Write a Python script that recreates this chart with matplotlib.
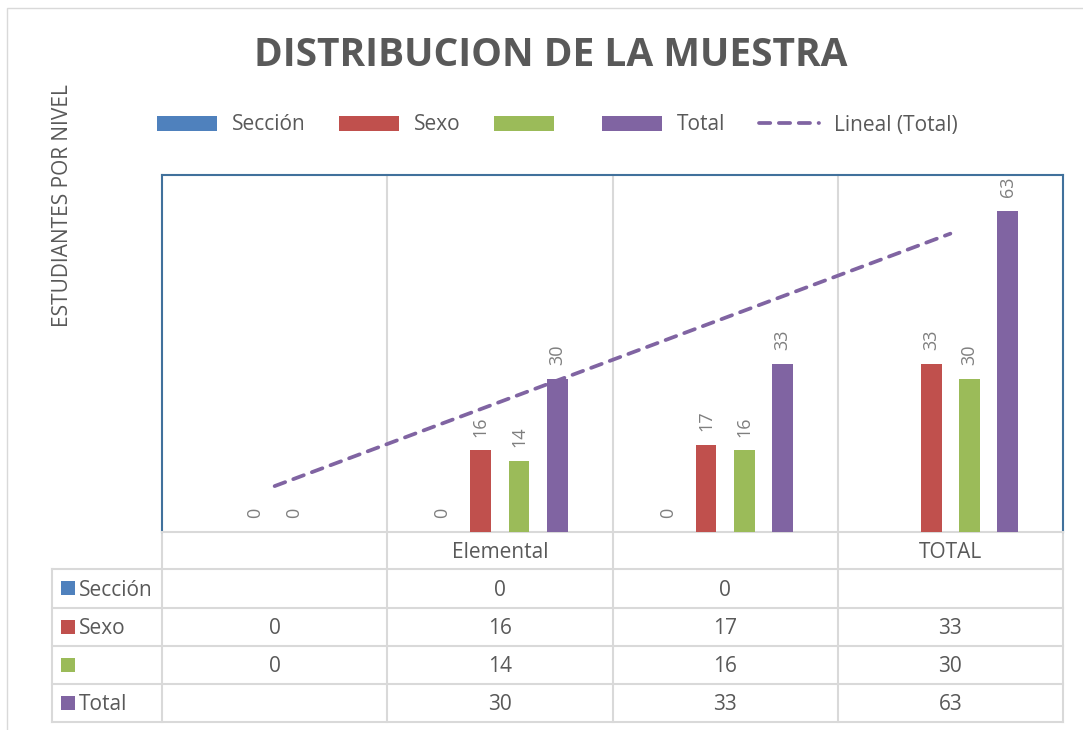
import matplotlib.pyplot as plt
import numpy as np
from matplotlib.lines import Line2D
from matplotlib.patches import Patch, Rectangle

plt.rcParams["font.family"] = ["Open Sans", "DejaVu Sans"]

# data (None = blank cell in the Excel table)
categories = ["", "Elemental", "", "TOTAL"]
series_names = ["Sección", "Sexo", "", "Total"]
seccion = [None, 0, 0, None]
sexo = [0, 16, 17, 33]
verde = [0, 14, 16, 30]
total = [None, 30, 33, 63]

colors = ["#4F81BD", "#C0504D", "#9BBB59", "#8064A2"]
TEXT = "#595959"
LABEL = "#7F7F7F"
GRID = "#D9D9D9"
FRAME = "#41719C"

W, H = 1083, 730
# plot area in pixels
PL, PR, PT, PB = 162, 1063, 175, 532


def fx(px):
    return px / W


def fy(py):
    return 1 - py / H


def ay(py):
    # pixel row -> axes fraction of the plot area
    return (PB - py) / (PB - PT)


fig = plt.figure(figsize=(W / 100, H / 100), dpi=100)
ax = fig.add_axes([fx(PL), fy(PB), (PR - PL) / W, (PB - PT) / H])

x = np.arange(len(categories))
step, width = 0.17, 0.092
all_series = [seccion, sexo, verde, total]
for i, (vals, color) in enumerate(zip(all_series, colors)):
    xs = [x[j] + (i - 1.5) * step for j, v in enumerate(vals) if v is not None]
    hs = [v for v in vals if v is not None]
    bars = ax.bar(xs, hs, width, color=color, zorder=3)
    ax.bar_label(bars, padding=10, rotation=90, color=LABEL, fontsize=13, clip_on=True)

# linear trendline on Total, Excel-style x = 1..n
idx = [j for j, v in enumerate(total) if v is not None]
coef = np.polyfit(np.array(idx) + 1, [total[j] for j in idx], 1)
trend_style = dict(color=colors[3], lw=2.7, dashes=(3.0, 2.3), dash_capstyle="round")
ax.plot(x, np.polyval(coef, x + 1), zorder=4, **trend_style)

ax.set_xlim(-0.5, len(categories) - 0.5)
ax.set_ylim(0, 70)
ax.set_xticks([])
ax.set_yticks([])
for side in ["left", "top", "right"]:
    ax.spines[side].set_color(FRAME)
    ax.spines[side].set_linewidth(1.5)
ax.spines["bottom"].set_color(GRID)
ax.spines["bottom"].set_linewidth(1.5)

# data table under the plot
xt = ax.get_xaxis_transform()
row_lines = [569, 607.5, 646, 684, 722]
table_left = -0.5 - (PL - 52) / ((PR - PL) / len(categories))
line_kw = dict(transform=xt, clip_on=False, color=GRID, lw=1.5, zorder=1)

for b in x[:-1] + 0.5:
    ax.plot([b, b], [1, ay(row_lines[-1])], **line_kw)
for b in [-0.5, x[-1] + 0.5]:
    ax.plot([b, b], [0, ay(row_lines[-1])], **line_kw)
ax.plot([table_left, table_left], [ay(row_lines[0]), ay(row_lines[-1])], **line_kw)
for r in row_lines:
    ax.plot([table_left, x[-1] + 0.5], [ay(r), ay(r)], **line_kw)

for j, cat in enumerate(categories):
    ax.text(x[j], ay((PB + row_lines[0]) / 2 + 2), cat, transform=xt, ha="center", va="center",
            fontsize=15, color=TEXT)

for i, (name, vals, color) in enumerate(zip(series_names, all_series, colors)):
    top, bot = row_lines[i], row_lines[i + 1]
    mid = (top + bot) / 2
    fig.add_artist(Rectangle((fx(61), fy(mid + 7)), 14 / W, 14 / H, transform=fig.transFigure,
                             facecolor=color, edgecolor="none"))
    fig.text(fx(79), fy(mid + 2), name, ha="left", va="center", fontsize=15, color=TEXT)
    for j, v in enumerate(vals):
        if v is not None:
            ax.text(x[j], ay(mid + 2), f"{v}", transform=xt, ha="center", va="center",
                    fontsize=15, color=TEXT)

# titles
fig.text(fx(551), fy(56), "DISTRIBUCION DE LA MUESTRA", ha="center", va="center",
         fontsize=28, fontweight="bold", color=TEXT)
fig.text(fx(62), fy(206), "ESTUDIANTES POR NIVEL", rotation=90, ha="center", va="center",
         fontsize=15, color=TEXT)

handles = [Patch(facecolor=c, edgecolor="none") for c in colors]
handles.append(Line2D([], [], **trend_style))
labels = series_names + ["Lineal (Total)"]
fig.legend(handles, labels, loc="center", bbox_to_anchor=(fx(557), fy(125)), ncol=5,
           frameon=False, fontsize=15, handlelength=2.9, handleheight=0.7,
           handletextpad=0.7, columnspacing=1.6, labelcolor=TEXT)

# outer chart border (only left and top edges are inside the crop)
fig.add_artist(Rectangle((fx(7), -0.05), 1.2, fy(8) + 0.05, transform=fig.transFigure,
                         fill=False, edgecolor=GRID, lw=1))

fig.savefig("out.png", dpi=100)
